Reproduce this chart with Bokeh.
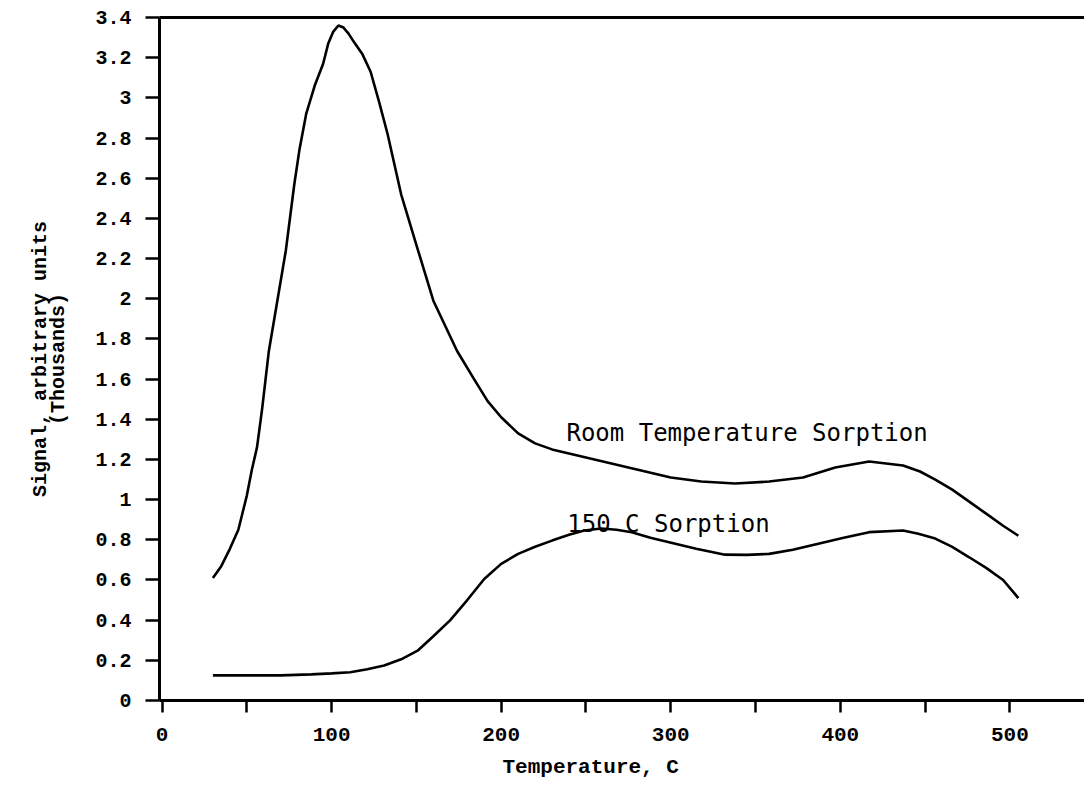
from bokeh.plotting import figure
from bokeh.models import LinearAxis, Label, Range1d, FixedTicker, Title
from bokeh.embed import file_html
from bokeh.resources import INLINE

# Room temperature sorption curve (Temperature C, signal in thousands)
room_t = [30, 35, 40, 45, 50, 53, 56, 59, 63, 68, 73, 78, 81, 85, 90, 95, 98, 101, 104,
          107, 110, 113, 118, 123, 128, 133, 141, 151, 160, 174, 184, 192, 200, 210,
          220, 230, 240, 260, 280, 300, 318, 338, 358, 378, 397, 417, 437, 447, 456,
          466, 476, 486, 496, 505]
room_s = [0.61, 0.67, 0.755, 0.85, 1.02, 1.15, 1.26, 1.45, 1.74, 1.99, 2.24, 2.57, 2.74, 2.92,
          3.06, 3.17, 3.27, 3.33, 3.36, 3.35, 3.32, 3.28, 3.22, 3.13, 2.98, 2.82, 2.52,
          2.24, 1.99, 1.74, 1.6, 1.49, 1.41, 1.33, 1.28, 1.25, 1.23, 1.19, 1.15, 1.11,
          1.09, 1.08, 1.09, 1.11, 1.16, 1.19, 1.17, 1.14, 1.10, 1.05, 0.99, 0.93, 0.87, 0.82]

# 150 C sorption curve
hot_t = [30, 50, 70, 88, 100, 111, 121, 131, 141, 151, 160, 170, 180, 190, 200, 210, 220,
         230, 240, 249, 259, 268, 277, 288, 299, 315, 332, 345, 358, 372, 387, 402, 417,
         437, 446, 456, 466, 476, 486, 496, 505]
hot_s = [0.125, 0.125, 0.125, 0.13, 0.135, 0.141, 0.156, 0.174, 0.205, 0.25, 0.32, 0.40,
         0.50, 0.605, 0.68, 0.73, 0.765, 0.796, 0.825, 0.846, 0.856, 0.85, 0.838, 0.81,
         0.788, 0.755, 0.726, 0.725, 0.73, 0.75, 0.78, 0.81, 0.838, 0.846, 0.83, 0.806,
         0.765, 0.713, 0.66, 0.6, 0.51]

y_ticks = [0, 0.2, 0.4, 0.6, 0.8, 1, 1.2, 1.4, 1.6, 1.8, 2, 2.2, 2.4, 2.6, 2.8, 3, 3.2, 3.4]
x_major = [0, 100, 200, 300, 400, 500]
x_minor = [50, 150, 250, 350, 450]
y_overrides = {0: "0", 1: "1", 2: "2", 3: "3"}

label_room = "Room Temperature Sorption"
label_hot = "150 C Sorption"
x_title = "Temperature, C"
y_title = "Signal, arbitrary units\n" + "\u00a0" * 6 + "(Thousands)"

p = figure(width=1084, height=797, output_backend="svg", toolbar_location=None,
           x_range=Range1d(-1.5, 544), y_range=Range1d(0, 3.4),
           min_border_left=159, min_border_right=0, min_border_top=17,
           min_border_bottom=97, x_axis_location=None, y_axis_location=None)
p.outline_line_color = None
p.grid.visible = False
p.background_fill_color = "white"
p.border_fill_color = "white"

tick_font = "Liberation Mono"

xa = LinearAxis(ticker=FixedTicker(ticks=x_major, minor_ticks=x_minor))
xa.axis_line_width = 3
xa.axis_line_color = "black"
xa.major_tick_in = 0
xa.major_tick_out = 12
xa.minor_tick_in = 0
xa.minor_tick_out = 12
xa.major_tick_line_width = 2.5
xa.minor_tick_line_width = 2.5
xa.major_label_text_font = tick_font
xa.major_label_text_font_style = "bold"
xa.major_label_text_font_size = "21px"
xa.major_label_text_color = "black"
xa.major_label_standoff = 15
p.add_layout(xa, "below")

ya = LinearAxis(ticker=FixedTicker(ticks=y_ticks))
ya.axis_line_width = 3
ya.axis_line_color = "black"
ya.major_tick_in = 0
ya.major_tick_out = 14
ya.major_tick_line_width = 2.5
ya.minor_tick_line_color = None
ya.major_label_text_font = tick_font
ya.major_label_text_font_style = "bold"
ya.major_label_text_font_size = "20px"
ya.major_label_text_color = "black"
ya.major_label_standoff = 14
ya.major_label_overrides = y_overrides
p.add_layout(ya, "left")

ta = LinearAxis(ticker=FixedTicker(ticks=[]))
ta.axis_line_width = 3
ta.axis_line_color = "black"
ta.major_tick_line_color = None
ta.minor_tick_line_color = None
ta.major_label_text_font_size = "0px"
p.add_layout(ta, "above")

p.line(room_t, room_s, line_color="black", line_width=2.6)
p.line(hot_t, hot_s, line_color="black", line_width=2.6)

p.add_layout(Label(x=238.5, y=1.33, text=label_room, text_font="DejaVu Sans Mono",
                   text_font_size="24px", text_color="black",
                   text_align="left", text_baseline="alphabetic"))
p.add_layout(Label(x=239, y=0.88, text=label_hot, text_font="DejaVu Sans Mono",
                   text_font_size="24px", text_color="black",
                   text_align="left", text_baseline="alphabetic"))

tx = Title(text=x_title, align="left", offset=343, standoff=20, text_font=tick_font,
           text_font_style="bold", text_font_size="21px", text_color="black")
p.add_layout(tx, "below")

ty = Title(text=y_title, align="center", standoff=44, text_font=tick_font,
           text_font_style="bold", text_font_size="20px", text_color="black",
           text_line_height=0.8)
p.add_layout(ty, "left")

open("out.html", "w").write(file_html(p, INLINE))
